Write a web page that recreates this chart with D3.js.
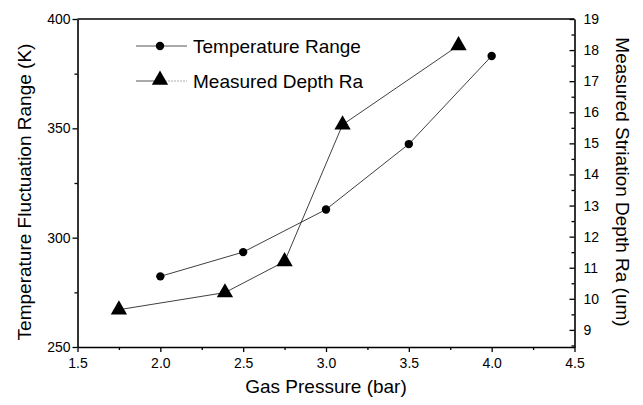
<!DOCTYPE html>
<html>
<head>
<meta charset="utf-8">
<script src="https://cdn.jsdelivr.net/npm/d3@7/dist/d3.min.js"></script>
<style>
  body { margin: 0; background: #fff; }
  svg { display: block; font-family: "Liberation Sans", Arial, sans-serif; }
</style>
</head>
<body>
<svg id="chart" width="643" height="405"></svg>
<script>
// ---- data ----
const tempPressure = [2.0, 2.5, 3.0, 3.5, 4.0];
const tempRange = [282.3, 293.4, 312.9, 342.8, 383.1];
const depthPressure = [1.75, 2.39, 2.75, 3.1, 3.8];
const depthRa = [9.65, 10.2, 11.2, 15.6, 18.15];
const xTicks = [1.5, 2.0, 2.5, 3.0, 3.5, 4.0, 4.5];
const yLeftTicks = [250, 300, 350, 400];
const yRightTicks = [9, 10, 11, 12, 13, 14, 15, 16, 17, 18, 19];
const legendLabels = ["Temperature Range", "Measured Depth Ra"];

const svg = d3.select("#chart");
const m = { left: 77.5, right: 574.5, top: 19, bottom: 347 };

const x = d3.scaleLinear().domain([1.5, 4.5]).range([m.left, m.right]);
const yL = d3.scaleLinear().domain([250, 400]).range([m.bottom, m.top]);
const yR = d3.scaleLinear().domain([8.45, 19]).range([m.bottom, m.top]);

const fontTick = 14;
const fontTitle = 19;

// frame top line
svg.append("line").attr("x1", m.left).attr("x2", m.right).attr("y1", m.top).attr("y2", m.top)
  .attr("stroke", "#000").attr("stroke-width", 1.6);

// bottom axis
const xAxis = svg.append("g").attr("transform", `translate(0,${m.bottom})`)
  .call(d3.axisBottom(x).tickValues(xTicks).tickFormat(d3.format(".1f")).tickSize(5).tickSizeOuter(0));
const xMinor = svg.append("g").attr("transform", `translate(0,${m.bottom})`)
  .call(d3.axisBottom(x).tickValues(d3.range(1.75, 4.5, 0.5)).tickFormat("").tickSize(3).tickSizeOuter(0));
xMinor.select(".domain").remove();

// left axis
const yLAxis = svg.append("g").attr("transform", `translate(${m.left},0)`)
  .call(d3.axisLeft(yL).tickValues(yLeftTicks).tickFormat(d3.format("d")).tickSize(5).tickSizeOuter(0));
const yLMinor = svg.append("g").attr("transform", `translate(${m.left},0)`)
  .call(d3.axisLeft(yL).tickValues([275, 325, 375]).tickFormat("").tickSize(3).tickSizeOuter(0));
yLMinor.select(".domain").remove();

// right axis (ticks inward)
const yRAxis = svg.append("g").attr("transform", `translate(${m.right},0)`)
  .call(d3.axisRight(yR).tickValues(yRightTicks).tickFormat(d3.format("d")).tickSize(-5).tickPadding(9).tickSizeOuter(0));
const yRMinor = svg.append("g").attr("transform", `translate(${m.right},0)`)
  .call(d3.axisRight(yR).tickValues(d3.range(8.5, 19, 1)).tickFormat("").tickSize(-3).tickSizeOuter(0));
yRMinor.select(".domain").remove();

[xAxis, yLAxis, yRAxis].forEach(g => {
  g.select(".domain").attr("stroke", "#000").attr("stroke-width", 1.6);
  g.selectAll("text").attr("font-size", fontTick).attr("fill", "#000")
    .attr("font-family", "Liberation Sans, Arial, sans-serif");
});
[xAxis, yLAxis, yRAxis, xMinor, yLMinor, yRMinor].forEach(g => {
  g.selectAll(".tick line").attr("stroke", "#000").attr("stroke-width", 1.3);
});
xAxis.selectAll("text").attr("dy", "0.95em");
yLAxis.selectAll("text").attr("x", -7);

// axis titles
svg.append("text").attr("x", (m.left + m.right) / 2).attr("y", 393)
  .attr("text-anchor", "middle").attr("font-size", fontTitle).text("Gas Pressure (bar)");
svg.append("text").attr("transform", `translate(31,192) rotate(-90)`)
  .attr("text-anchor", "middle").attr("font-size", fontTitle).text("Temperature Fluctuation Range (K)");
svg.append("text").attr("transform", `translate(616,182) rotate(90)`)
  .attr("text-anchor", "middle").attr("font-size", fontTitle).text("Measured Striation Depth Ra (um)");

// series
const tempData = tempPressure.map((p, i) => ({ x: p, y: tempRange[i] }));
const depthData = depthPressure.map((p, i) => ({ x: p, y: depthRa[i] }));

svg.append("path").datum(tempData)
  .attr("d", d3.line().x(d => x(d.x)).y(d => yL(d.y)))
  .attr("fill", "none").attr("stroke", "#2a2a2a").attr("stroke-width", 0.9);
svg.append("path").datum(depthData)
  .attr("d", d3.line().x(d => x(d.x)).y(d => yR(d.y)))
  .attr("fill", "none").attr("stroke", "#2a2a2a").attr("stroke-width", 0.9);

svg.selectAll("circle.temp").data(tempData).enter().append("circle")
  .attr("class", "temp").attr("cx", d => x(d.x)).attr("cy", d => yL(d.y)).attr("r", 4.2)
  .attr("fill", "#000");

const tri = d3.symbol().type(d3.symbolTriangle).size(115);
svg.selectAll("path.depth").data(depthData).enter().append("path")
  .attr("class", "depth").attr("d", tri)
  .attr("transform", d => `translate(${x(d.x)},${yR(d.y)})`)
  .attr("fill", "#000");

// legend
const lg = svg.append("g");
const ly = [46, 81];
lg.append("line").attr("x1", 136).attr("x2", 187).attr("y1", ly[0]).attr("y2", ly[0])
  .attr("stroke", "#555").attr("stroke-width", 1);
lg.append("circle").attr("cx", 160).attr("cy", ly[0]).attr("r", 4.2).attr("fill", "#000");
lg.append("line").attr("x1", 136).attr("x2", 155).attr("y1", ly[1]).attr("y2", ly[1])
  .attr("stroke", "#555").attr("stroke-width", 1);
lg.append("line").attr("x1", 165).attr("x2", 187).attr("y1", ly[1]).attr("y2", ly[1])
  .attr("stroke", "#999").attr("stroke-width", 0.8).attr("stroke-dasharray", "2,1");
lg.append("path").attr("d", tri).attr("transform", `translate(160,${ly[1] - 1})`).attr("fill", "#000");
lg.selectAll("text").data(legendLabels).enter().append("text")
  .attr("x", 193).attr("y", (d, i) => ly[i] + 7).attr("font-size", fontTitle).text(d => d);
</script>
</body>
</html>
